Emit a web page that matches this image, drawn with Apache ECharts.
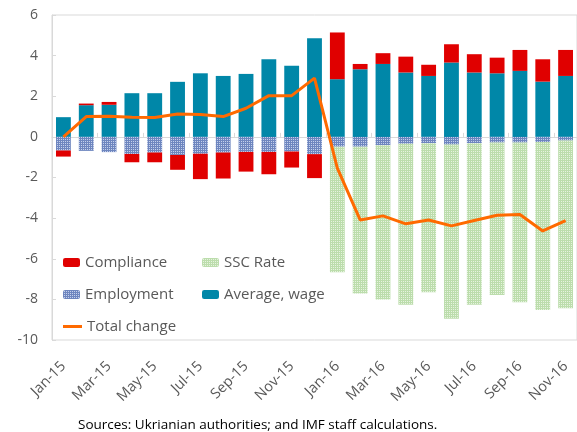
<!DOCTYPE html>
<html><head><meta charset="utf-8">
<script src="https://cdn.jsdelivr.net/npm/echarts@6/dist/echarts.min.js"></script>
<style>html,body{margin:0;padding:0;background:#fff}#c{width:577px;height:432px}</style>
</head><body><div id="c"></div>
<script>
var categories = ['Jan-15','Feb-15','Mar-15','Apr-15','May-15','Jun-15','Jul-15','Aug-15','Sep-15','Oct-15','Nov-15','Dec-15',
  'Jan-16','Feb-16','Mar-16','Apr-16','May-16','Jun-16','Jul-16','Aug-16','Sep-16','Oct-16','Nov-16'];
var wage = [0.97,1.56,1.58,2.15,2.15,2.71,3.13,3.0,3.1,3.82,3.5,4.86,2.84,3.33,3.59,3.17,3.0,3.66,3.17,3.13,3.25,2.72,3.0];
var compliance = [-0.3,0.08,0.14,-0.41,-0.48,-0.73,-1.25,-1.28,-0.97,-1.1,-0.79,-1.18,2.3,0.26,0.53,0.78,0.55,0.9,0.9,0.77,1.03,1.1,1.28];
var employment = [-0.67,-0.69,-0.75,-0.84,-0.77,-0.89,-0.83,-0.77,-0.74,-0.74,-0.72,-0.85,-0.48,-0.48,-0.41,-0.34,-0.31,-0.38,-0.31,-0.28,-0.28,-0.25,-0.18];
var sscRate = [0,0,0,0,0,0,0,0,0,0,0,0,-6.18,-7.23,-7.6,-7.92,-7.34,-8.57,-7.95,-7.5,-7.86,-8.27,-8.26];
var totalChange = [0,1.0,1.02,0.97,0.95,1.13,1.1,1.0,1.41,2.03,2.03,2.89,-1.54,-4.09,-3.89,-4.28,-4.09,-4.38,-4.12,-3.86,-3.82,-4.63,-4.12];
var yTicks = {min:-10, max:6, interval:2};

function pattern(bg, fg, pts, n){
  var cv = document.createElement('canvas'); cv.width = n; cv.height = n;
  var ctx = cv.getContext('2d'); ctx.fillStyle = bg; ctx.fillRect(0,0,n,n);
  ctx.fillStyle = fg; pts.forEach(function(p){ ctx.fillRect(p[0],p[1],1,1); });
  return {image: cv, repeat: 'repeat'};
}
var empFill = pattern('#6E86BF', '#C4D0EC', [[1,1]], 2);
var sscFill = pattern('#BCDDAC', '#E6F3DF', [[1,1]], 2);

var FONT = 'Open Sans';
var txt = {color:'#595959', fontFamily:FONT, fontSize:15};
function lg(name, left, top, icon){
  var o = {data:[name], left:left, top:top, itemWidth:17, itemHeight:9, itemGap:0, textStyle:txt, selectedMode:false, padding:0};
  if (icon) { o.icon = icon; o.itemHeight = 3; o.itemWidth = 19; }
  return o;
}
var chart = echarts.init(document.getElementById('c'), null, {renderer:'canvas'});
chart.setOption({
  animation:false,
  textStyle:{fontFamily:FONT},
  grid:{left:52, top:15, height:325, width:533.6, show:true, borderColor:'#D9D9D9', borderWidth:1, backgroundColor:'transparent'},
  legend:[
    lg('Compliance', 63, 255),
    lg('SSC Rate', 202, 255),
    lg('Employment', 63, 287),
    lg('Average, wage', 202, 287),
    lg('Total change', 63, 319, 'rect')
  ],
  xAxis:[
    {type:'category', data:categories, position:'bottom', boundaryGap:true,
     axisLine:{onZero:true, lineStyle:{color:'#D9D9D9', width:1}},
     axisTick:{show:true, inside:true, length:4, interval:1, lineStyle:{color:'#D9D9D9'}},
     axisLabel:{show:false}, splitLine:{show:false}},
    {type:'category', data:categories, position:'bottom', boundaryGap:true,
     axisLine:{show:false, onZero:false}, axisTick:{show:false},
     axisLabel:{show:true, interval:1, rotate:45, color:'#595959', fontSize:14.5, fontFamily:FONT, margin:24},
     splitLine:{show:false}}
  ],
  yAxis:{type:'value', min:yTicks.min, max:yTicks.max, interval:yTicks.interval,
    axisLine:{show:true, lineStyle:{color:'#D9D9D9'}},
    axisTick:{show:true, inside:true, length:4, lineStyle:{color:'#D9D9D9'}},
    axisLabel:{color:'#595959', fontSize:14, fontFamily:FONT, margin:14},
    splitLine:{show:false}},
  series:[
    {name:'Average, wage', type:'bar', stack:'s', data:wage, barWidth:'65%', itemStyle:{color:'#0087A8'}},
    {name:'Employment', type:'bar', stack:'s', data:employment, itemStyle:{color:empFill}},
    {name:'Compliance', type:'bar', stack:'s', data:compliance, itemStyle:{color:'#E00000'}},
    {name:'SSC Rate', type:'bar', stack:'s', data:sscRate, itemStyle:{color:sscFill}},
    {name:'Total change', type:'line', data:totalChange, symbol:'none', z:5,
     lineStyle:{color:'#FF6A00', width:3}, itemStyle:{color:'#FF6A00'}}
  ],
  graphic:[{type:'text', left:78, top:418, style:{text:'Sources: Ukrianian authorities; and IMF staff calculations.', fill:'#000', font:'13.5px "Open Sans"'}}]
});
</script></body></html>
